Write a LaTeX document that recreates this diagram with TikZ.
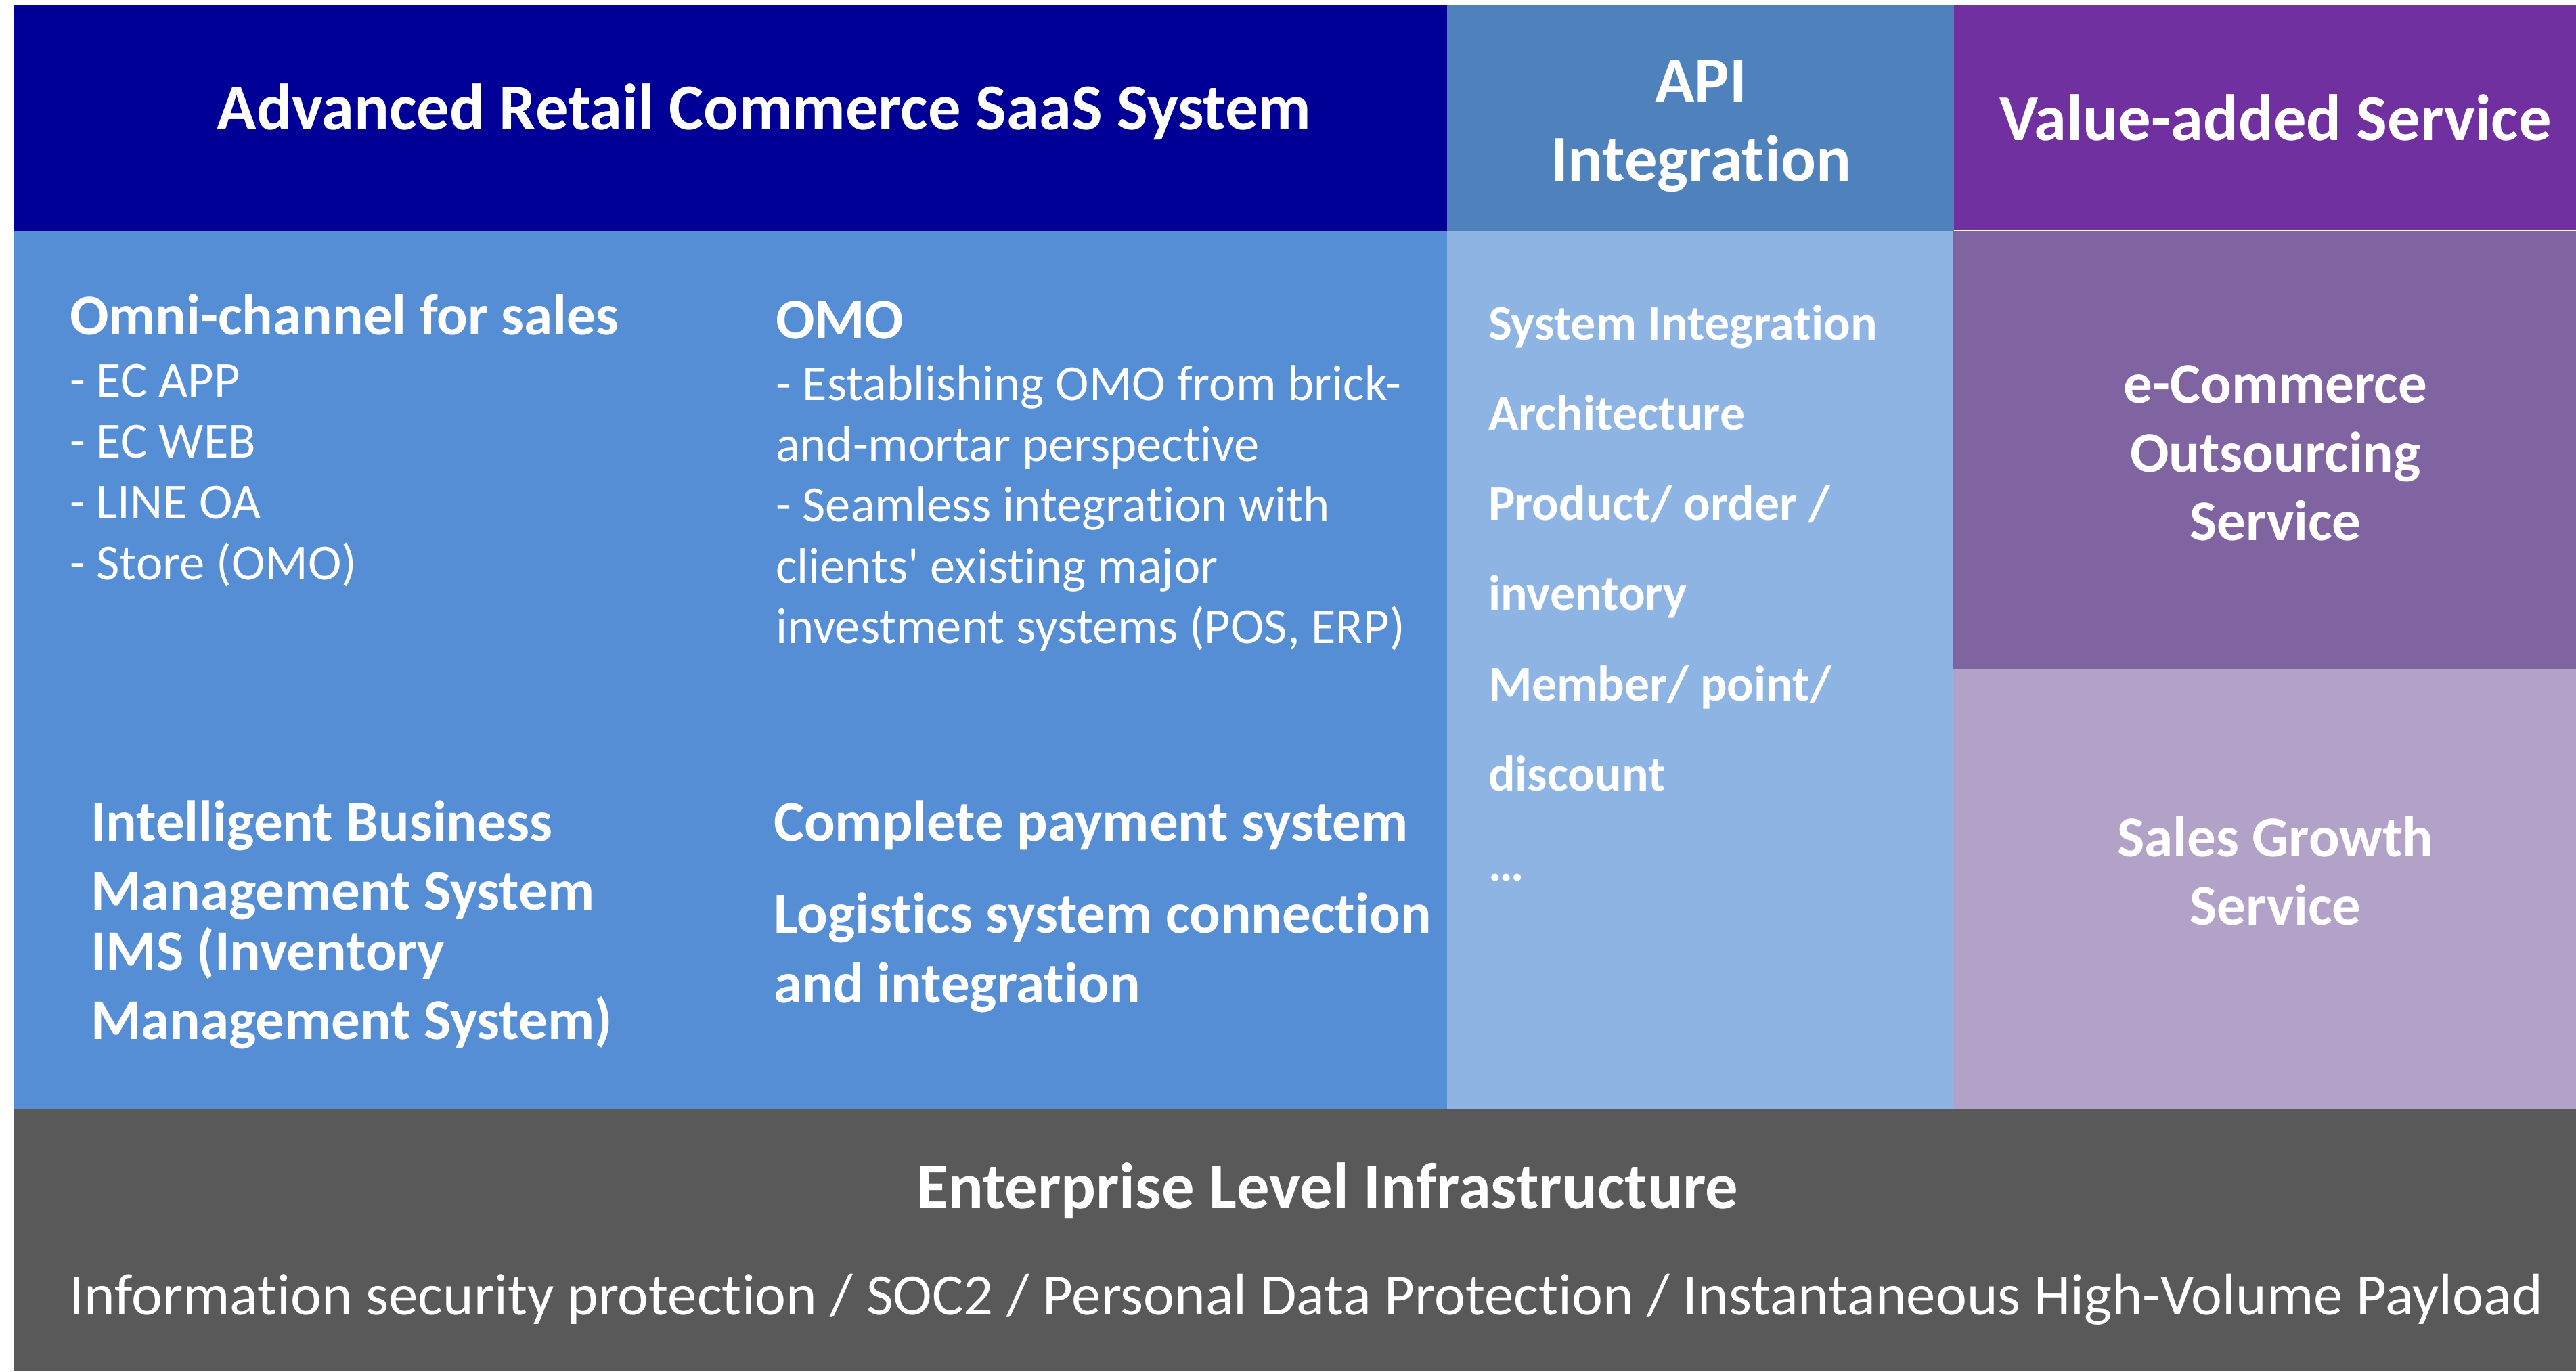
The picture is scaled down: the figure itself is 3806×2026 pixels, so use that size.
\documentclass[tikz,border=0pt]{standalone}
\usepackage{fontspec}
\setmainfont{Carlito}
% plain Carlito: no "ti" ligatures, straight apostrophes
\newfontfamily\carl[Ligatures=NoCommon]{Carlito}
\definecolor{navy}{HTML}{000096}
\definecolor{mainblue}{HTML}{558ED5}
\definecolor{apihead}{HTML}{4F81BD}
\definecolor{apibody}{HTML}{8EB4E3}
\definecolor{vaspurple}{HTML}{7030A0}
\definecolor{ecpurple}{HTML}{8064A2}
\definecolor{sgpurple}{HTML}{B3A2C7}
\definecolor{infragray}{HTML}{595959}
\tikzset{
  txt/.style={text=white, inner sep=0pt, outer sep=0pt},
  bigtitle/.style={txt, font=\carl\fontsize{27.5}{32}\selectfont\bfseries},
  subtitle/.style={txt, font=\carl\fontsize{24.2}{29}\selectfont\bfseries},
  bodytext/.style={txt, font=\carl\fontsize{21.2}{25}\selectfont},
  apitext/.style={txt, font=\carl\fontsize{21}{25}\selectfont\bfseries},
  infratext/.style={txt, font=\carl\fontsize{24.7}{29}\selectfont},
  lft/.style={anchor=base west},
  ctr/.style={anchor=base},
}
\begin{document}
\begin{tikzpicture}[x=0.01cm, y=-0.01cm]
\useasboundingbox (0,0) rectangle (3806,2026);
% coloured panels
\fill[navy]       (21,8)    rectangle (2138,341);
\fill[mainblue]   (21,341)  rectangle (2138,1639);
\fill[apihead]    (2138,8)  rectangle (2887,341);
\fill[apibody]    (2138,341) rectangle (2886,1639);
\fill[vaspurple]  (2887,8)  rectangle (3806,341);
\fill[ecpurple]   (2886,341) rectangle (3806,989);
\fill[sgpurple]   (2886,989) rectangle (3806,1639);
\fill[infragray]  (21,1639) rectangle (3806,2026);
\draw[white, line width=0.3pt] (2887,341) -- (3806,341);

% header row
\node[bigtitle, ctr] (saas) at (1129,191) {Advanced Retail Commerce SaaS System};
\node[bigtitle, ctr] (api1) at (2513,151) {API};
\node[bigtitle, ctr] (api2) at (2513,267) {Integration};
\node[bigtitle, ctr] (vas)  at (3362,207) {Value-added Service};

% omni-channel block
\node[subtitle, lft] (omni)  at (103,494) {Omni-channel for sales};
\node[bodytext, lft] (omni1) at (103,586) {- EC APP};
\node[bodytext, lft] (omni2) at (103,676) {- EC WEB};
\node[bodytext, lft] (omni3) at (103,766) {- LINE OA};
\node[bodytext, lft] (omni4) at (103,856) {- Store (OMO)};

% OMO block
\node[subtitle, lft] (omo)  at (1146,500) {OMO};
\node[bodytext, lft] (omo1) at (1146,591) {- Establishing OMO from brick-};
\node[bodytext, lft] (omo2) at (1146,681) {and-mortar perspective};
\node[bodytext, lft] (omo3) at (1146,770) {- Seamless integration with};
\node[bodytext, lft] (omo4) at (1146,861) {clients' existing major};
\node[bodytext, lft] (omo5) at (1146,950) {investment systems (POS, ERP)};

% business management block
\node[subtitle, lft] (ibm1) at (134,1242) {Intelligent Business};
\node[subtitle, lft] (ibm2) at (134,1344) {Management System};
\node[subtitle, lft] (ims1) at (134,1433) {IMS (Inventory};
\node[subtitle, lft] (ims2) at (134,1535) {Management System)};

% payment and logistics block
\node[subtitle, lft] (pay)  at (1143,1242) {Complete payment system};
\node[subtitle, lft] (log1) at (1143,1378) {Logistics system connection};
\node[subtitle, lft] (log2) at (1143,1481) {and integration};

% API integration list
\node[apitext, lft] (si)   at (2199,502)  {System Integration};
\node[apitext, lft] (arch) at (2199,635)  {Architecture};
\node[apitext, lft] (prd1) at (2199,768)  {Product/ order /};
\node[apitext, lft] (prd2) at (2199,901)  {inventory};
\node[apitext, lft] (mem1) at (2199,1035) {Member/ point/};
\node[apitext, lft] (mem2) at (2199,1168) {discount};
\node[apitext, lft] (more) at (2199,1301) {…};

% value-added services
\node[subtitle, ctr] (ec1) at (3362,595) {e-Commerce};
\node[subtitle, ctr] (ec2) at (3362,697) {Outsourcing};
\node[subtitle, ctr] (ec3) at (3362,798) {Service};
\node[subtitle, ctr] (sg1) at (3362,1265) {Sales Growth};
\node[subtitle, ctr] (sg2) at (3362,1366) {Service};

% infrastructure band
\node[bigtitle, ctr] (infra) at (1961,1785) {Enterprise Level Infrastructure};
\node[infratext, ctr] (infra2) at (1930,1942) {Information security protection / SOC2 / Personal Data Protection / Instantaneous High-Volume Payload};
\end{tikzpicture}
\end{document}
